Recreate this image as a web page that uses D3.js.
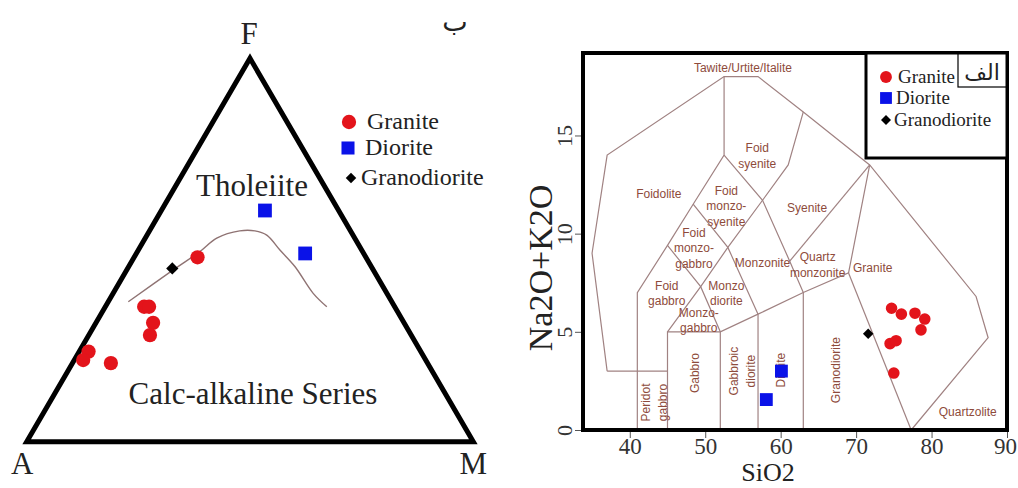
<!DOCTYPE html>
<html>
<head>
<meta charset="utf-8">
<script src="https://cdn.jsdelivr.net/npm/d3@7"></script>
<style>
body{margin:0;background:#fff}
svg{display:block}
</style>
</head>
<body>
<svg id="fig" width="1018" height="488"></svg>
<script>
// ---------- AFM (left), values as [A, F, M] ----------
var afm_granite = [[37.7,48.1,14.2],[56.1,35.2,8.7],[55.0,35.2,9.8],[56.2,31.0,12.8],[58.5,27.8,13.7],
                   [74.4,23.5,2.1],[76.7,21.3,2.0],[70.9,20.5,8.6]];
var afm_diorite = [[16.5,60.3,23.2],[13.1,49.1,37.8]];
var afm_granodiorite = [[44.8,45.2,10.0]];
// Irvine & Baragar boundary
var afm_curve = [[59,36.5,4.5],[44.8,44.8,10.4],[36.4,49.6,14],[30.9,53.1,16],[24.8,55,20.2],[21.4,55,23.6],
                 [19.3,53.9,26.8],[18.3,50,31.7],[17.1,45.7,37.2],[16.5,38.7,44.8],[15.2,35.2,49.6]];

// ---------- TAS (right), values as [SiO2, Na2O+K2O] ----------
var tas_granite = [[74.7,6.2],[76.0,5.9],[77.8,5.95],[79.1,5.65],[78.6,5.1],[74.5,4.4],[75.3,4.55],[75.0,2.9]];
var tas_diorite = [[60.1,3.0],[58.1,1.55]];
var tas_granodiorite = [[71.6,4.9]];
var x_ticks = [40,50,60,70,80,90];
var y_ticks = [0,5,10,15];

// field boundaries (Middlemost 1994, plutonic)
var tas_lines = [
  [[37,3],[35,9],[37,14],[52.5,18],[57,18],[63,16.2],[71.8,13.5],[85.9,6.8],[87.5,4.7],[77.3,0]],
  [[37,3],[45,3]],
  [[41,0],[41,7],[45,9.4],[48.4,11.5],[52.5,14],[52.5,18]],
  [[45,0],[45,5],[52,5],[57,5.9],[63,7],[69,8],[71.8,13.5]],
  [[52,0],[52,5]],
  [[57,0],[57,5.9]],
  [[63,0],[63,7]],
  [[69,8],[77.3,0]],
  [[45,5],[49.4,7.3],[53,9.3],[57.6,11.7],[61,13.5],[63,16.2]],
  [[45,9.4],[49.4,7.3],[52,5]],
  [[48.4,11.5],[53,9.3],[57,5.9]],
  [[52.5,14],[57.6,11.7],[61.2,8.6],[63,7]],
  [[61.2,8.6],[71.8,13.5]]
];
// field names: [text lines, SiO2, Na2O+K2O, vertical?]
var tas_names = [
  [["Tawite/Urtite/Italite"],55,18.45,0],
  [["Foid","syenite"],56.9,13.95,0],
  [["Foidolite"],43.85,12.0,0],
  [["Foid","monzo-","syenite"],52.8,11.4,0],
  [["Syenite"],63.5,11.3,0],
  [["Foid","monzo-","gabbro"],48.5,9.25,0],
  [["Monzonite"],57.6,8.5,0],
  [["Quartz","monzonite"],64.9,8.4,0],
  [["Granite"],72.2,8.25,0],
  [["Foid","gabbro"],44.9,6.95,0],
  [["Monzo","diorite"],52.8,6.95,0],
  [["Monzo-","gabbro"],49.15,5.57,0],
  [["Peridot","gabbro"],43.25,1.4,1],
  [["Gabbro"],48.7,2.9,1],
  [["Gabbroic","diorite"],55.0,3.0,1],
  [["Diorite"],60.1,3.05,1],
  [["Granodiorite"],67.3,3.05,1],
  [["Quartzolite"],84.8,0.92,0]
];

var serif = "'Liberation Serif','Times New Roman',serif";
var red = "#e3141b", blue = "#0a12e8", brown = "#8e4b3b", linec = "#a08282";
var svg = d3.select("#fig");

// ======================= AFM =======================
var afm_x = d3.scaleLinear().domain([0,100]).range([26.7,473.3]);
var afm_y = d3.scaleLinear().domain([0,100]).range([441.7,58.3]);
function afm_pos(p){
  var s = p[0]+p[1]+p[2];
  var f = p[1]/s*100, m = p[2]/s*100;
  return [afm_x(m+f/2), afm_y(f)];
}
var afm = svg.append("g");

afm.append("path")
  .attr("d", d3.line().curve(d3.curveCatmullRom)(afm_curve.map(afm_pos)))
  .attr("fill","none").attr("stroke","#8f7373").attr("stroke-width",1.4);

afm.append("path")
  .attr("d", d3.line()([[100,0,0],[0,100,0],[0,0,100]].map(afm_pos)) + "Z")
  .attr("fill","none").attr("stroke","#000").attr("stroke-width",5).attr("stroke-linejoin","miter");

afm.append("text").attr("x",afm_x(50)-1).attr("y",44).attr("text-anchor","middle")
  .style("font",'31px '+serif).attr("fill","#222").text("F");
afm.append("text").attr("x",afm_x(-1)).attr("y",474).attr("text-anchor","middle")
  .style("font",'31px '+serif).attr("fill","#222").text("A");
afm.append("text").attr("x",afm_x(100)).attr("y",474).attr("text-anchor","middle")
  .style("font",'31px '+serif).attr("fill","#222").text("M");
afm.append("text").attr("x",455).attr("y",31).attr("text-anchor","middle")
  .style("font","27px 'DejaVu Sans',sans-serif").attr("fill","#222").text("ب");

afm.append("text").attr("x",252).attr("y",196).attr("text-anchor","middle")
  .style("font",'31px '+serif).attr("fill","#222").text("Tholeiite");
afm.append("text").attr("x",253).attr("y",404).attr("text-anchor","middle")
  .style("font",'31px '+serif).attr("fill","#222").text("Calc-alkaline Series");

function markers(g, data, pos, kind, size, color){
  var sym = d3.symbol().type(kind=="circle" ? d3.symbolCircle : d3.symbolSquare).size(size);
  g.selectAll(null).data(data).enter().append("path")
    .attr("d", sym)
    .attr("transform", function(d){ var p = pos(d);
      return "translate("+p[0]+","+p[1]+")" + (kind=="diamond" ? " rotate(45)" : ""); })
    .attr("fill", color);
}
markers(afm, afm_granite, afm_pos, "circle", 160, red);
markers(afm, afm_diorite, afm_pos, "square", 190, blue);
markers(afm, afm_granodiorite, afm_pos, "diamond", 75, "#000");

// legend AFM
var leg1 = [["Granite","circle",160,red],["Diorite","square",170,blue],["Granodiorite","diamond",55,"#000"]];
leg1.forEach(function(l,i){
  var yy = [122,148,178][i], xx = [349,348,351][i];
  markers(afm, [[xx,yy]], function(d){return d;}, l[1], l[2], l[3]);
  afm.append("text").attr("x",[367,365,361][i]).attr("y",yy+7)
    .style("font",'24px '+serif).attr("fill","#222").text(l[0]);
});

// ======================= TAS =======================
var x = d3.scaleLinear().domain([33.8,90]).range([583,1007]);
var y = d3.scaleLinear().domain([0,19.2]).range([430,53]);
function tas_pos(d){ return [x(d[0]), y(d[1])]; }
var tas = svg.append("g");

tas.selectAll(".fld").data(tas_lines).enter().append("path")
  .attr("class","fld")
  .attr("d", function(d){ return d3.line()(d.map(tas_pos)); })
  .attr("fill","none").attr("stroke",linec).attr("stroke-width",1.2);

tas_names.forEach(function(n){
  var px = x(n[1]), py = y(n[2]), k = n[0].length;
  var t = tas.append("text").attr("text-anchor","middle").attr("fill",brown)
    .style("font","12px 'Liberation Sans',Arial,sans-serif")
    .attr("transform","translate("+px+","+py+")"+(n[3] ? " rotate(-90)" : ""));
  n[0].forEach(function(s,j){
    t.append("tspan").attr("x",0).attr("y",(j-(k-1)/2)*(n[3] ? 17 : 15.5)+4).text(s);
  });
});

markers(tas, tas_granite, tas_pos, "circle", 105, red);
markers(tas, tas_diorite, tas_pos, "square", 165, blue);
markers(tas, tas_granodiorite, tas_pos, "diamond", 55, "#000");

// axes
var xAxis = d3.axisBottom(x).tickValues(x_ticks).tickSize(6).tickPadding(0);
var gx = tas.append("g").attr("transform","translate(0,432)").call(xAxis);
var yAxis = d3.axisLeft(y).tickValues(y_ticks).tickSize(6);
var gy = tas.append("g").attr("transform","translate(581,0)").call(yAxis);
gx.select(".domain").remove();
gy.select(".domain").remove();
tas.selectAll(".tick line").attr("stroke","#555");
gx.selectAll("text").style("font",'23px '+serif).attr("fill","#333")
  .attr("dx", function(d){ return d==90 ? -2 : 0; });
gy.selectAll("text").style("font",'22px '+serif).attr("fill","#333")
  .attr("x",0).attr("y",-9).attr("dy",null).attr("text-anchor","middle")
  .attr("transform","rotate(-90)");

tas.append("text").attr("transform","translate(552,268) rotate(-90)").attr("text-anchor","middle")
  .style("font",'34px '+serif).attr("fill","#222").text("Na2O+K2O");
tas.append("text").attr("x",768).attr("y",481).attr("text-anchor","middle")
  .style("font",'26px '+serif).attr("fill","#222").text("SiO2");

// frame and legend box
tas.append("rect").attr("x",583).attr("y",53).attr("width",424).attr("height",377)
  .attr("fill","none").attr("stroke","#000").attr("stroke-width",4);
tas.append("rect").attr("x",866).attr("y",53).attr("width",141).attr("height",105)
  .attr("fill","#fff").attr("stroke","#000").attr("stroke-width",3);
tas.append("rect").attr("x",958).attr("y",53).attr("width",49).attr("height",34)
  .attr("fill","none").attr("stroke","#000").attr("stroke-width",1.2);
tas.append("text").attr("x",982).attr("y",80).attr("text-anchor","middle")
  .style("font","22px 'DejaVu Sans',sans-serif").attr("fill","#222").text("الف");

var leg2 = [["Granite","circle",110,red],["Diorite","square",140,blue],["Granodiorite","diamond",50,"#000"]];
leg2.forEach(function(l,i){
  var yy = [77,98,120][i];
  markers(tas, [[886,yy]], function(d){return d;}, l[1], l[2], l[3]);
  tas.append("text").attr("x",[898,896,894][i]).attr("y",yy+6)
    .style("font",'19px '+serif).attr("fill","#222").text(l[0]);
});
</script>
</body>
</html>
